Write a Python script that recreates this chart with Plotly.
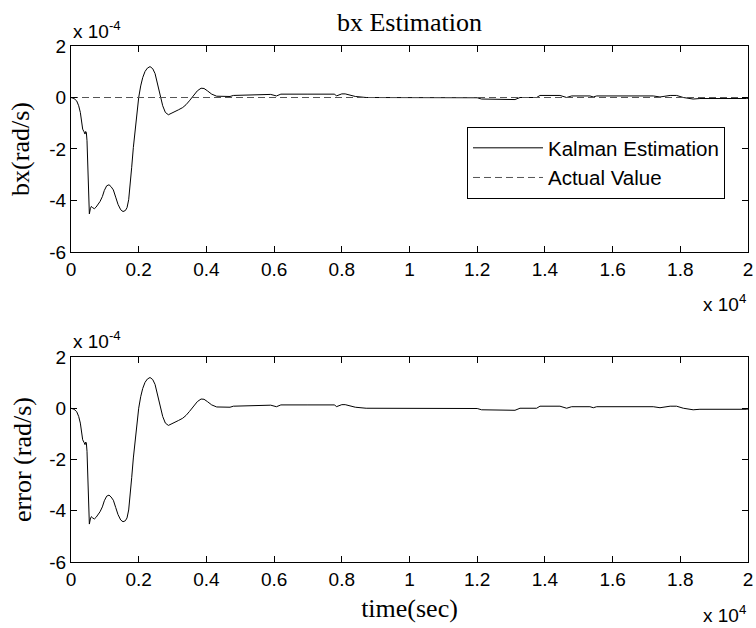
import plotly.graph_objects as go

# time in seconds
time_sec = [0, 89, 167, 227, 276, 315, 345, 384, 414, 433, 453, 473, 493, 512, 522, 542,
            571, 601, 640, 690, 739, 808, 857, 926, 985, 1054, 1123, 1182, 1251, 1320,
            1389, 1468, 1537, 1606, 1655, 1704, 1743, 1793, 1842, 1891, 1940, 2000, 2059,
            2118, 2187, 2256, 2335, 2414, 2483, 2552, 2630, 2709, 2788, 2877, 2955, 3044,
            3172, 3300, 3398, 3497, 3615, 3733, 3842, 3930, 4029, 4157, 4304, 4452, 4698,
            4797, 5093, 5339, 5536, 5900, 6070, 6200, 7000, 7790, 7840, 8000, 8100, 8400,
            8720, 10000, 12000, 12130, 13116, 13264, 13756, 13854, 14445, 14642, 14790,
            15331, 15430, 15530, 17200, 17400, 17700, 17890, 18090, 18380, 18580, 19960, 20000]

# Kalman estimate of bx, in units of 1e-4 rad/s
kalman_bx_e4 = [0, -0.04, -0.13, -0.32, -0.58, -0.90, -1.23, -1.33, -1.42, -1.32, -1.35, -1.68,
                -2.45, -3.48, -4.13, -4.52, -4.32, -4.23, -4.28, -4.32, -4.26, -4.15, -4.04,
                -3.85, -3.61, -3.43, -3.39, -3.46, -3.59, -3.87, -4.15, -4.36, -4.43, -4.39,
                -4.28, -3.97, -3.48, -2.71, -1.94, -1.29, -0.65, 0.0, 0.45, 0.77, 1.01, 1.14,
                1.20, 1.12, 0.93, 0.58, 0.13, -0.32, -0.58, -0.67, -0.62, -0.55, -0.48, -0.39,
                -0.28, -0.13, 0.09, 0.26, 0.36, 0.35, 0.26, 0.13, 0.05, 0.04, 0.04, 0.08, 0.09,
                0.12, 0.13, 0.12, 0.06, 0.13, 0.13, 0.13, 0.06, 0.14, 0.14, 0.04, 0.0, 0.0,
                -0.01, -0.06, -0.08, 0.0, 0.0, 0.08, 0.08, 0.0, 0.06, 0.06, 0.02, 0.06, 0.06,
                0.02, 0.08, 0.08, 0.0, -0.06, -0.04, -0.04, -0.03]

# Actual value, units of 1e-4 rad/s
actual_time_sec = [0, 20000]
actual_bx_e4 = [0, 0]

# Estimation error, units of 1e-4 rad/s (identical in the picture since actual = 0)
error_bx_e4 = list(kalman_bx_e4)

x_tickvals = [0, 2000, 4000, 6000, 8000, 10000, 12000, 14000, 16000, 18000, 20000]
x_ticktext = ["0", "0.2", "0.4", "0.6", "0.8", "1", "1.2", "1.4", "1.6", "1.8", "2"]
y_tickvals = [-6, -4, -2, 0, 2]
y_ticktext = ["-6", "-4", "-2", "0", "2"]

SANS = "Liberation Sans, Arial, sans-serif"
SERIF = "Liberation Serif, Times New Roman, serif"

fig = go.Figure()
fig.add_trace(go.Scatter(x=time_sec, y=kalman_bx_e4, mode="lines", name="Kalman Estimation",
                         line=dict(color="black", width=1), xaxis="x", yaxis="y"))
fig.add_trace(go.Scatter(x=actual_time_sec, y=actual_bx_e4, mode="lines", name="Actual Value",
                         line=dict(color="#555555", width=1, dash="7px,4px"), xaxis="x", yaxis="y"))
fig.add_trace(go.Scatter(x=time_sec, y=error_bx_e4, mode="lines", name="error",
                         line=dict(color="black", width=1), xaxis="x2", yaxis="y2",
                         showlegend=False))

axis_common = dict(showgrid=False, zeroline=False, showline=True, linecolor="black",
                   linewidth=1, mirror="allticks", ticks="inside", ticklen=6,
                   tickcolor="black", tickfont=dict(family=SANS, size=19, color="black"),
                   automargin=False)

W, H = 756, 628

fig.update_layout(
    width=W, height=H,
    margin=dict(l=71, r=8, t=46, b=66),
    paper_bgcolor="white", plot_bgcolor="white",
    title=dict(text="bx Estimation", x=0.5, xref="paper", xanchor="center",
               y=1 - 22 / H, yref="container", yanchor="middle",
               font=dict(family=SERIF, size=26, color="black")),
    xaxis=dict(domain=[0, 1], anchor="y", range=[0, 20000], tickvals=x_tickvals,
               ticktext=x_ticktext, **axis_common),
    yaxis=dict(domain=[0.6008, 1], anchor="x", range=[-6, 2], tickvals=y_tickvals,
               ticktext=y_ticktext,
               title=dict(text="bx(rad/s)", font=dict(family=SERIF, size=26, color="black"),
                          standoff=12),
               **axis_common),
    xaxis2=dict(domain=[0, 1], anchor="y2", range=[0, 20000], tickvals=x_tickvals,
                ticktext=x_ticktext,
                title=dict(text="time(sec)", font=dict(family=SERIF, size=26, color="black"),
                           standoff=10),
                **axis_common),
    yaxis2=dict(domain=[0, 0.3973], anchor="x2", range=[-6, 2], tickvals=y_tickvals,
                ticktext=y_ticktext,
                title=dict(text="error (rad/s)", font=dict(family=SERIF, size=26, color="black"),
                           standoff=10),
                **axis_common),
    legend=dict(x=(467 - 71) / 677, xanchor="left", y=(562 - 127) / 516, yanchor="top",
                bgcolor="white", bordercolor="black", borderwidth=1,
                font=dict(family=SANS, size=20.5, color="black"),
                itemwidth=70, tracegroupgap=0),
    showlegend=True,
)

def paper_y(py):
    # py: target pixel row in the 756x628 window
    return (562 - py) / 516

exp_font = dict(family=SANS, size=19, color="black")
for py in (30, 340):
    fig.add_annotation(text="x 10<sup>-4</sup>", xref="paper", yref="paper", x=0, y=paper_y(py),
                       xanchor="left", yanchor="middle", showarrow=False, font=exp_font)
for py in (303, 614):
    fig.add_annotation(text="x 10<sup>4</sup>", xref="paper", yref="paper", x=1.0, y=paper_y(py),
                       xanchor="right", yanchor="middle", showarrow=False, font=exp_font)

fig.write_html("out.html", config={"displayModeBar": False},
               post_script="document.body.style.margin='0';")
